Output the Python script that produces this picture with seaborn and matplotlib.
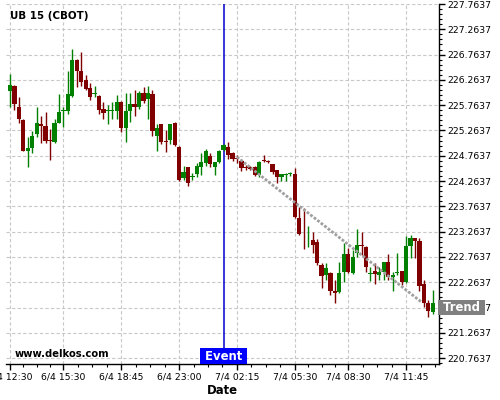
import numpy as np
import pandas as pd
import matplotlib.pyplot as plt
import matplotlib.transforms as mtransforms
from matplotlib.ticker import FixedLocator
import seaborn as sns

# ── Settings ──────────────────────────────────────────────────────────────────
sns.set_theme(style="white")
plt.rcParams['font.family'] = ['DejaVu Sans']
UP_GREEN = '#008000'
DOWN_RED = '#800000'
GRID_GRAY = '#c8c8c8'

# ── Data (15 min bars, UB 15 CBOT) ────────────────────────────────────────────
opens = [226.05, 226.14, 225.73, 225.47, 224.86, 224.92, 225.19, 225.39, 225.35, 225.08,
         225.03, 225.42, 225.64, 225.64, 225.95, 226.66, 226.43, 226.26, 226.10, 225.98,
         225.95, 225.68, 225.65, 225.64, 225.65, 225.83, 225.31, 225.64, 225.78, 225.73,
         226.00, 225.89, 225.98, 225.16, 225.39, 225.05, 225.07, 225.41, 224.94, 224.32,
         224.54, 224.35, 224.40, 224.55, 224.62, 224.76, 224.55, 224.65, 224.87, 224.94,
         224.82, 224.73, 224.66, 224.55, 224.54, 224.55, 224.38, 224.69, 224.67, 224.60,
         224.48, 224.35, 224.38, 224.40, 224.40, 223.54, 223.18, 223.15, 223.10, 223.06,
         222.60, 222.41, 222.44, 222.09, 222.08, 222.46, 222.82, 222.45, 222.85, 223.00,
         222.97, 222.43, 222.48, 222.41, 222.47, 222.67, 222.36, 222.44, 222.48, 222.26,
         222.98, 223.13, 223.07, 222.23, 221.86, 221.68]
highs = [226.38, 226.16, 225.93, 225.50, 225.14, 225.26, 225.72, 225.56, 225.62, 225.29,
         225.50, 225.98, 225.73, 226.43, 226.87, 226.68, 226.81, 226.37, 226.20, 226.14,
         225.97, 225.83, 225.77, 225.83, 225.97, 225.85, 226.00, 226.00, 226.06, 226.04,
         226.13, 226.14, 226.06, 225.39, 225.40, 225.27, 225.39, 225.43, 224.95, 224.56,
         224.55, 224.42, 224.62, 224.82, 224.89, 224.82, 224.65, 224.87, 224.99, 225.04,
         224.84, 224.77, 224.70, 224.59, 224.56, 224.56, 224.66, 224.77, 224.69, 224.60,
         224.48, 224.40, 224.42, 224.45, 224.52, 223.76, 223.73, 223.38, 223.26, 223.12,
         222.64, 222.64, 222.47, 222.31, 222.66, 223.05, 222.94, 222.90, 223.31, 223.26,
         222.98, 222.57, 222.64, 222.57, 222.67, 222.82, 222.47, 222.84, 222.48, 223.17,
         223.20, 223.14, 223.13, 222.30, 221.92, 222.12]
lows = [225.73, 225.67, 225.41, 224.85, 224.55, 224.81, 225.14, 225.01, 225.01, 224.69,
        225.01, 225.41, 225.33, 225.59, 225.93, 226.13, 226.14, 226.06, 225.87, 225.92,
        225.59, 225.50, 225.39, 225.50, 225.50, 225.24, 225.04, 225.44, 225.56, 225.69,
        225.80, 225.50, 225.15, 224.86, 224.99, 224.84, 224.99, 224.95, 224.27, 224.29,
        224.16, 224.29, 224.35, 224.38, 224.56, 224.54, 224.38, 224.63, 224.86, 224.71,
        224.66, 224.63, 224.46, 224.49, 224.48, 224.36, 224.34, 224.65, 224.62, 224.41,
        224.22, 224.26, 224.27, 224.36, 223.53, 223.20, 222.93, 222.97, 222.84, 222.60,
        222.16, 222.31, 222.01, 221.86, 222.05, 222.27, 222.44, 222.42, 222.77, 222.80,
        222.46, 222.29, 222.23, 222.30, 222.31, 222.31, 222.09, 222.40, 222.22, 222.25,
        222.74, 222.75, 222.09, 221.77, 221.58, 221.63]
closes = [226.16, 225.79, 225.49, 224.86, 224.92, 225.15, 225.41, 225.35, 225.05, 225.05,
          225.41, 225.62, 225.66, 225.98, 226.66, 226.43, 226.23, 226.08, 225.92, 226.00,
          225.67, 225.61, 225.66, 225.66, 225.83, 225.32, 225.64, 225.78, 225.73, 226.00,
          225.85, 226.00, 225.25, 225.32, 225.04, 225.03, 225.39, 224.98, 224.29, 224.44,
          224.23, 224.36, 224.56, 224.64, 224.86, 224.60, 224.64, 224.86, 224.98, 224.78,
          224.70, 224.70, 224.52, 224.52, 224.50, 224.38, 224.65, 224.67, 224.64, 224.45,
          224.35, 224.40, 224.40, 224.42, 223.55, 223.22, 223.17, 223.16, 223.01, 222.64,
          222.39, 222.54, 222.10, 222.05, 222.44, 222.82, 222.46, 222.77, 223.00, 222.98,
          222.57, 222.45, 222.43, 222.47, 222.67, 222.36, 222.41, 222.47, 222.27, 222.98,
          223.13, 223.07, 222.19, 221.86, 221.70, 221.86]

tick_bars = [0, 12, 25, 38, 51, 64, 76, 89]
tick_labels = ['6/4 12:30', '6/4 15:30', '6/4 18:45', '6/4 23:00',
               '7/4 02:15', '7/4 05:30', '7/4 08:30', '7/4 11:45']
event_bar = 48
trend_bars = [51, 92.5]
trend_prices = [224.74, 221.87]
trend_label_price = 221.7637
price_levels = np.arange(220.7637, 227.80, 0.5)
price_minor = np.arange(220.6637, 227.80, 0.1)

df = pd.DataFrame({'open': opens, 'high': highs, 'low': lows, 'close': closes})
df['bar'] = np.arange(len(df))
df['color'] = np.where(df['close'] >= df['open'], UP_GREEN, DOWN_RED)
df['body_low'] = df[['open', 'close']].min(axis=1)
df['body_h'] = (df['close'] - df['open']).abs().clip(lower=0.018)

# ── Figure ────────────────────────────────────────────────────────────────────
fig = plt.figure(figsize=(5, 4), dpi=100, facecolor='white')
ax = fig.add_axes([0.012, 0.09, 0.866, 0.90])
ax.set_facecolor('white')

ax.axvline(event_bar, color='#0000cc', lw=1.1, zorder=1.5)
ax.vlines(df['bar'], df['low'], df['high'], colors=df['color'], lw=1, zorder=2)
ax.bar(df['bar'], df['body_h'], bottom=df['body_low'], width=0.95,
       color=df['color'], linewidth=0, zorder=2)

sns.lineplot(x=trend_bars, y=trend_prices, ax=ax, color='#a0a0a0',
             lw=2, linestyle=(0, (1, 0.6)), zorder=3)

ax.set_xlim(-0.9, 96.4)
ax.set_ylim(220.649, 227.7637)

# ticks
ax.xaxis.set_major_locator(FixedLocator(tick_bars))
ax.set_xticklabels(tick_labels)
minor_x = []
for a, b in zip(tick_bars[:-1], tick_bars[1:]):
    minor_x += list(np.linspace(a, b, 5)[1:-1])
minor_x += list(np.linspace(89, 89 + 13, 5)[1:-1])
ax.xaxis.set_minor_locator(FixedLocator(minor_x))

ax.yaxis.tick_right()
ax.yaxis.set_major_locator(FixedLocator(price_levels))
ax.yaxis.set_minor_locator(FixedLocator(price_minor))
ax.set_yticklabels([f'{p:.4f}' for p in price_levels])

ax.tick_params(axis='both', which='major', direction='out', length=4, width=1,
               colors='black', labelsize=6.7, pad=2)
ax.tick_params(axis='both', which='minor', direction='out', length=2, width=0.8,
               colors='black')
ax.tick_params(axis='x', which='both', bottom=True, top=False)
ax.tick_params(axis='y', which='both', right=True, left=False,
               labelright=True, labelleft=False)

ax.grid(True, which='major', color=GRID_GRAY, linestyle=(0, (3, 2)), lw=0.8)
ax.set_axisbelow(True)

ax.spines['top'].set_visible(False)
ax.spines['left'].set_visible(False)
for s in ['bottom', 'right']:
    ax.spines[s].set_color('black')
    ax.spines[s].set_linewidth(1)

ax.set_xlabel('Date', fontweight='bold', fontsize=8.4, labelpad=2, color='black')

# labels
ev_tr = mtransforms.blended_transform_factory(ax.transData, ax.transAxes)
ax.text(event_bar, 0.004, ' Event ', transform=ev_tr, ha='center', va='bottom',
        color='white', fontweight='bold', fontsize=8.4, zorder=5,
        bbox=dict(boxstyle='square,pad=0.1', fc='#0000ff', ec='none'))

tr_tr = mtransforms.blended_transform_factory(ax.transAxes, ax.transData)
ax.text(1.0, trend_label_price, ' Trend ', transform=tr_tr, ha='left', va='center',
        color='white', fontweight='bold', fontsize=8.4, zorder=5, clip_on=False,
        bbox=dict(boxstyle='square,pad=0.1', fc='#808080', ec='none'))

fig.text(0.02, 0.961, 'UB 15 (CBOT)', fontweight='bold', fontsize=7.4,
         va='center', ha='left', color='black')
fig.text(0.03, 0.115, 'www.delkos.com', fontweight='bold', fontsize=7.2,
         va='center', ha='left', color='black')

fig.savefig('out.png', dpi=100, facecolor='white')
plt.close()
